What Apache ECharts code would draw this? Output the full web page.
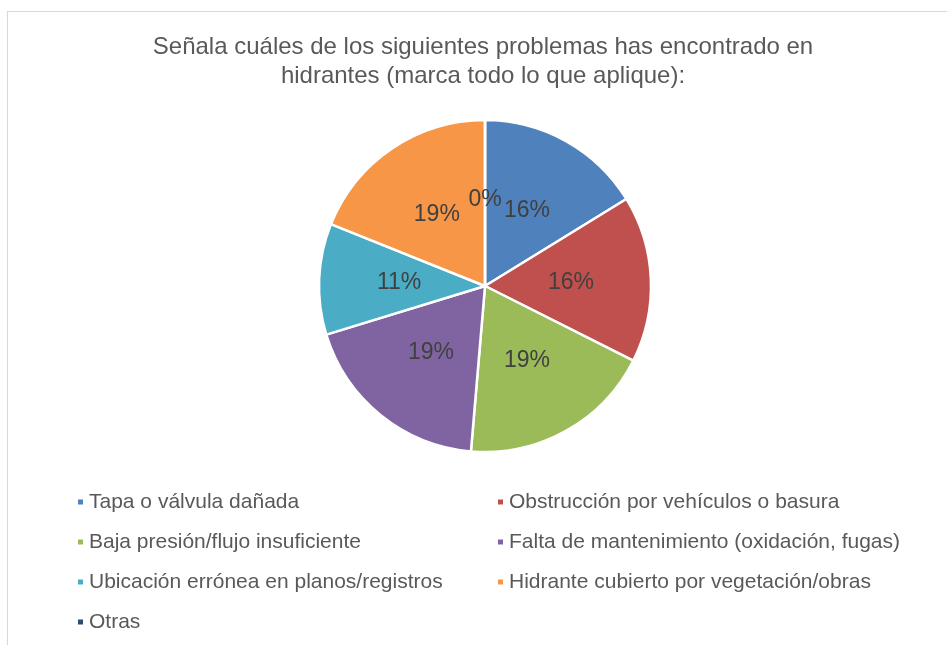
<!DOCTYPE html>
<html>
<head>
<meta charset="utf-8">
<script src="https://cdn.jsdelivr.net/npm/echarts@6/dist/echarts.min.js"></script>
<style>
  html, body { margin: 0; padding: 0; background: #fff; overflow: hidden; }
  #frame { position: absolute; left: 7px; top: 11px; width: 960px; height: 660px; border: 1px solid #d9d9d9; box-sizing: border-box; }
  #chart { position: absolute; left: 0; top: 0; width: 947px; height: 645px; }
</style>
</head>
<body>
<div id="frame"></div>
<div id="chart"></div>
<script>
// problem categories and answer counts
var categories = [
    'Tapa o válvula dañada',
    'Obstrucción por vehículos o basura',
    'Baja presión/flujo insuficiente',
    'Falta de mantenimiento (oxidación, fugas)',
    'Ubicación errónea en planos/registros',
    'Hidrante cubierto por vegetación/obras',
    'Otras'
];
var counts = [6, 6, 7, 7, 4, 7, 0];
var colors = ['#4F81BD', '#C0504D', '#9BBB59', '#8064A2', '#4BACC6', '#F79646', '#2C4D75'];

var leftCol = [categories[0], categories[2], categories[4], categories[6]];
var rightCol = [categories[1], categories[3], categories[5]];

var chart = echarts.init(document.getElementById('chart'));

var legendBase = {
    orient: 'vertical',
    icon: 'rect',
    itemWidth: 7,
    itemHeight: 7,
    itemGap: 16,
    textStyle: { fontFamily: 'Liberation Sans', fontSize: 21, color: '#595959', lineHeight: 24 },
    selectedMode: false
};

chart.setOption({
    color: colors,
    title: {
        text: 'Señala cuáles de los siguientes problemas has encontrado en\nhidrantes (marca todo lo que aplique):',
        left: 478,
        textAlign: 'center',
        top: 28,
        textStyle: { fontFamily: 'Liberation Sans', fontSize: 24, fontWeight: 'normal', color: '#595959', lineHeight: 29 }
    },
    legend: [
        Object.assign({}, legendBase, { data: leftCol, left: 71, top: 485 }),
        Object.assign({}, legendBase, { data: rightCol, left: 491, top: 485 })
    ],
    series: [{
        type: 'pie',
        center: [485, 286],
        radius: 166,
        startAngle: 90,
        clockwise: true,
        avoidLabelOverlap: false,
        animation: false,
        itemStyle: { borderColor: '#fff', borderWidth: 2.5 },
        label: {
            position: 'inner',
            fontFamily: 'Liberation Sans',
            fontSize: 23,
            color: '#404040',
            formatter: function (p) { return Math.round(p.percent) + '%'; }
        },
        labelLine: { show: false },
        emphasis: { disabled: true },
        data: categories.map(function (c, i) { return { name: c, value: counts[i] }; })
    }]
});
</script>
</body>
</html>
